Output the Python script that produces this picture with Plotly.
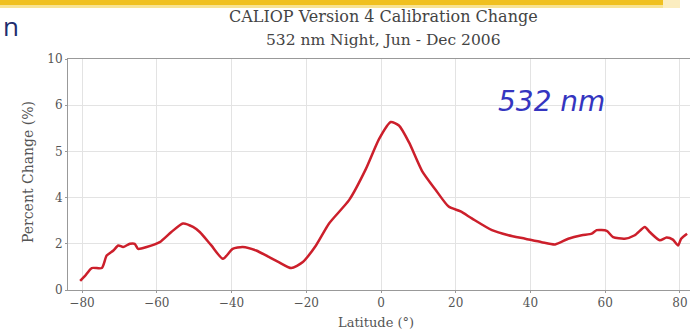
import plotly.graph_objects as go

latitude = [-80.5, -79.2, -77.4, -74.7, -73.4, -71.6, -70.3, -69.0, -67.2, -65.9, -65.0,
            -62.7, -59.2, -56.1, -53.0, -50.3, -48.5, -45.4, -42.3, -39.7, -37.0, -33.4,
            -29.9, -27.5, -24.0, -21.0, -17.4, -13.9, -8.5, -4.1, -0.5, 2.6, 4.8, 7.5,
            11.0, 14.6, 18.1, 21.3, 24.3, 29.7, 34.1, 38.6, 43.0, 46.6, 50.1, 53.7, 56.4,
            57.7, 60.4, 62.1, 65.2, 67.9, 70.6, 71.9, 74.6, 76.4, 78.1, 79.5, 80.3, 81.9]
percent_change = [0.39, 0.61, 0.95, 0.95, 1.49, 1.71, 1.93, 1.86, 2.0, 2.0, 1.78,
                  1.86, 2.07, 2.51, 2.88, 2.73, 2.51, 1.93, 1.35, 1.78, 1.86, 1.71,
                  1.42, 1.22, 0.95, 1.2, 1.93, 2.88, 3.9, 5.22, 6.54, 7.27, 7.12, 6.39,
                  5.15, 4.34, 3.61, 3.4, 3.1, 2.59, 2.37, 2.22, 2.07, 1.97, 2.22, 2.37, 2.44,
                  2.59, 2.56, 2.29, 2.22, 2.37, 2.73, 2.51, 2.15, 2.27, 2.18, 1.93, 2.22, 2.44]

y_tick_vals = [0, 2, 4, 6, 8, 10]
y_tick_text = ["0", "2", "4", "5", "6", "10"]
x_tick_vals = [-80, -60, -40, -20, 0, 20, 40, 60, 80]

serif = "DejaVu Serif, Liberation Serif, serif"
sans = "DejaVu Sans, Open Sans, sans-serif"

W, H = 690, 334
L, T, R = 68, 59, 0
B = H - 290
PW, PH = W - L - R, H - T - B


def px(x):
    return (x - L) / PW


def py(y):
    return 1 - (y - T) / PH


fig = go.Figure()
fig.add_trace(go.Scatter(x=latitude, y=percent_change, mode="lines",
                         line=dict(color="#cc1f2b", width=2.5, shape="spline", smoothing=0.6),
                         showlegend=False, hoverinfo="skip"))

axis_common = dict(showgrid=True, gridcolor="#e3e3e3", gridwidth=1, zeroline=False,
                   showline=True, linecolor="#999", linewidth=1, mirror=True,
                   ticks="outside", ticklen=2, tickcolor="#999", automargin=False,
                   tickfont=dict(family=serif, size=12, color="#555"))

fig.update_layout(
    width=W, height=H,
    margin=dict(l=L, r=R, t=T, b=B),
    paper_bgcolor="white", plot_bgcolor="white",
    font=dict(family=serif, color="#444", size=12),
    xaxis=dict(range=[-83.75, 82.68], tickvals=x_tick_vals, ticklabeloverflow="allow",
               **axis_common),
    yaxis=dict(range=[0, 10], tickvals=y_tick_vals, ticktext=y_tick_text, **axis_common),
    shapes=[
        dict(type="rect", xref="paper", yref="paper", x0=px(0), x1=px(663), y0=py(5), y1=py(0),
             fillcolor="#f0c020", line=dict(width=0), layer="above"),
        dict(type="rect", xref="paper", yref="paper", x0=px(0), x1=px(663), y0=py(8), y1=py(5),
             fillcolor="#f8e394", line=dict(width=0), layer="above"),
        dict(type="rect", xref="paper", yref="paper", x0=px(663), x1=px(680), y0=py(8), y1=py(0),
             fillcolor="#fbedc0", line=dict(width=0), layer="above"),
    ],
    annotations=[
        dict(text="CALIOP Version 4 Calibration Change",
             xref="paper", yref="paper", x=px(383), y=py(17), xanchor="center", yanchor="middle",
             showarrow=False, font=dict(family=serif, size=16, color="#444")),
        dict(text="532 nm Night, Jun - Dec 2006",
             xref="paper", yref="paper", x=px(383), y=py(40), xanchor="center", yanchor="middle",
             showarrow=False, font=dict(family=serif, size=15.5, color="#444")),
        dict(text="Latitude (°)", xref="paper", yref="paper", x=px(376), y=py(322),
             xanchor="center", yanchor="middle", showarrow=False,
             font=dict(family=serif, size=13, color="#555")),
        dict(text="Percent Change (%)", xref="paper", yref="paper", x=px(28), y=py(172),
             xanchor="center", yanchor="middle", showarrow=False, textangle=-90,
             font=dict(family=serif, size=14, color="#555")),
        dict(text="<i>532 nm</i>", xref="x", yref="y", x=45.5, y=8.14,
             xanchor="center", yanchor="middle", showarrow=False,
             font=dict(family=sans, size=28, color="#3535c0")),
        dict(text="n", xref="paper", yref="paper", x=px(1), y=py(26),
             xanchor="left", yanchor="middle", showarrow=False,
             font=dict(family="Open Sans, DejaVu Sans, sans-serif", size=26, color="#1e2d6e")),
    ],
)

fig.write_html("out.html", config={"displayModeBar": False},
               post_script="document.body.style.margin='0';document.body.style.overflow='hidden';")
